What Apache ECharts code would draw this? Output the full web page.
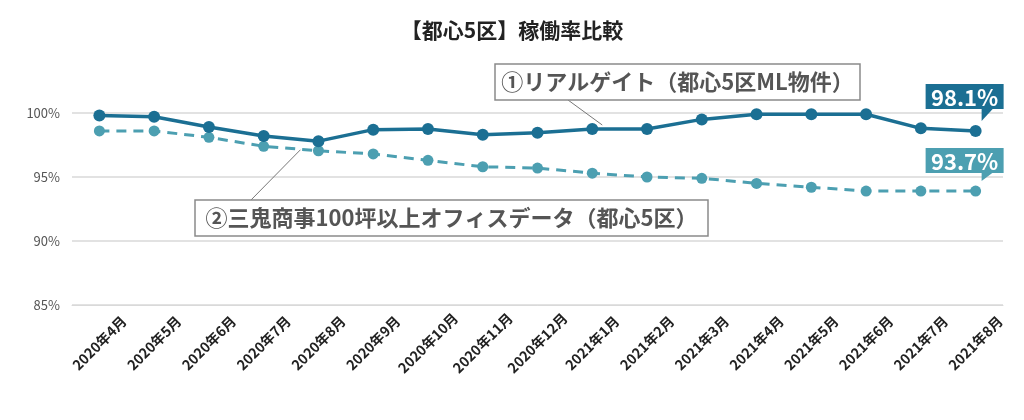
<!DOCTYPE html>
<html>
<head>
<meta charset="utf-8">
<script src="https://cdn.jsdelivr.net/npm/echarts@6/dist/echarts.min.js"></script>
<style>
  html, body { margin: 0; padding: 0; background: #fff; }
  #main { width: 1024px; height: 420px; }
</style>
</head>
<body>
<div id="main"></div>
<script>
// 月
var months = ['2020年4月', '2020年5月', '2020年6月', '2020年7月', '2020年8月', '2020年9月',
  '2020年10月', '2020年11月', '2020年12月', '2021年1月', '2021年2月', '2021年3月',
  '2021年4月', '2021年5月', '2021年6月', '2021年7月', '2021年8月'];
// ①リアルゲイト
var realgate = [99.8, 99.7, 98.9, 98.2, 97.8, 98.7, 98.75, 98.3, 98.45, 98.75, 98.75, 99.5, 99.9, 99.9, 99.9, 98.8, 98.6];
// ②三鬼商事
var miki = [98.6, 98.6, 98.1, 97.4, 97.05, 96.8, 96.3, 95.8, 95.7, 95.3, 95.0, 94.9, 94.5, 94.2, 93.9, 93.9, 93.9];
var seriesNames = ['①リアルゲイト（都心5区ML物件）', '②三鬼商事100坪以上オフィスデータ（都心5区）'];
var lastLabels = ['98.1%', '93.7%'];

var darkColor = '#1b6f93';
var lightColor = '#4c9fb1';
var font = '"Noto Sans CJK JP", "Noto Sans", sans-serif';

var myChart = echarts.init(document.getElementById('main'));
var option = {
    animation: false,
    textStyle: { fontFamily: font },
    title: {
        text: '【都心5区】稼働率比較',
        left: 'center',
        top: 15,
        textStyle: { fontSize: 21, fontWeight: 'bold', color: '#222', fontFamily: font }
    },
    grid: { left: 72, right: 21, top: 113, bottom: 115 },
    xAxis: {
        type: 'category',
        data: months,
        boundaryGap: true,
        axisLine: { lineStyle: { color: '#d9d9d9' } },
        axisTick: { show: false },
        axisLabel: {
            rotate: 45, margin: 38, align: 'center', verticalAlign: 'middle',
            color: '#222', fontSize: 14, fontWeight: 'bold', interval: 0
        }
    },
    yAxis: {
        type: 'value',
        min: 85,
        max: 100,
        interval: 5,
        axisLine: { show: false },
        axisTick: { show: false },
        axisLabel: { formatter: '{value}%', color: '#555', fontSize: 13, margin: 12 },
        splitLine: { lineStyle: { color: '#d9d9d9', width: 1.5 } }
    },
    series: [{
        name: seriesNames[0],
        type: 'line',
        data: realgate,
        clip: false,
        symbol: 'circle',
        symbolSize: 12,
        z: 3,
        lineStyle: { color: darkColor, width: 3.5 },
        itemStyle: { color: darkColor }
    }, {
        name: seriesNames[1],
        type: 'line',
        data: miki,
        clip: false,
        symbol: 'circle',
        symbolSize: 11,
        z: 2,
        lineStyle: { color: lightColor, width: 3, type: [10, 7] },
        itemStyle: { color: lightColor }
    }]
};
myChart.setOption(option);

// 注記（凡例ボックスとラベル）
var last = months.length - 1;
var p1 = myChart.convertToPixel({ seriesIndex: 0 }, [last, realgate[last]]);
var p2 = myChart.convertToPixel({ seriesIndex: 1 }, [last, miki[last]]);
var a1 = myChart.convertToPixel({ seriesIndex: 0 }, [9, realgate[9]]);
var a2 = myChart.convertToPixel({ seriesIndex: 1 }, [4, miki[4]]);

function calloutBox(x, y, w, h, text) {
    return [{
        type: 'rect',
        shape: { x: x, y: y, width: w, height: h },
        style: { fill: '#fff', stroke: '#8a8a8a', lineWidth: 1.5 },
        z: 10
    }, {
        type: 'text',
        x: x + w / 2,
        y: y + h / 2,
        style: {
            text: text, fill: '#555', font: 'bold 22px ' + font,
            align: 'center', verticalAlign: 'middle'
        },
        z: 11
    }];
}

function valueTag(p, dy, color, text) {
    var bx = p[0] - 50, by = p[1] + dy, bw = 78, bh = 25;
    return [{
        type: 'polygon',
        shape: { points: [[bx + bw - 22, by + bh - 1], [bx + bw - 10, by + bh - 1], [p[0] + 6, p[1] - 10]] },
        style: { fill: color },
        z: 10
    }, {
        type: 'rect',
        shape: { x: bx, y: by, width: bw, height: bh },
        style: { fill: color },
        z: 10
    }, {
        type: 'text',
        x: bx + bw / 2,
        y: by + bh / 2 + 1,
        style: {
            text: text, fill: '#fff', font: 'bold 22px ' + font,
            align: 'center', verticalAlign: 'middle'
        },
        z: 11
    }];
}

var elements = [];
elements.push({
    type: 'line',
    shape: { x1: 568, y1: 100, x2: a1[0] + 10, y2: a1[1] - 4 },
    style: { stroke: '#777', lineWidth: 1 },
    z: 9
});
elements.push({
    type: 'line',
    shape: { x1: 250, y1: 201, x2: a2[0] - 18, y2: a2[1] - 1 },
    style: { stroke: '#777', lineWidth: 1 },
    z: 9
});
elements = elements.concat(calloutBox(495, 64, 365, 36, seriesNames[0]));
elements = elements.concat(calloutBox(195, 200, 513, 36, seriesNames[1]));
elements = elements.concat(valueTag(p1, -47, darkColor, lastLabels[0]));
elements = elements.concat(valueTag(p2, -43, lightColor, lastLabels[1]));

myChart.setOption({ graphic: { elements: elements } });
</script>
</body>
</html>
